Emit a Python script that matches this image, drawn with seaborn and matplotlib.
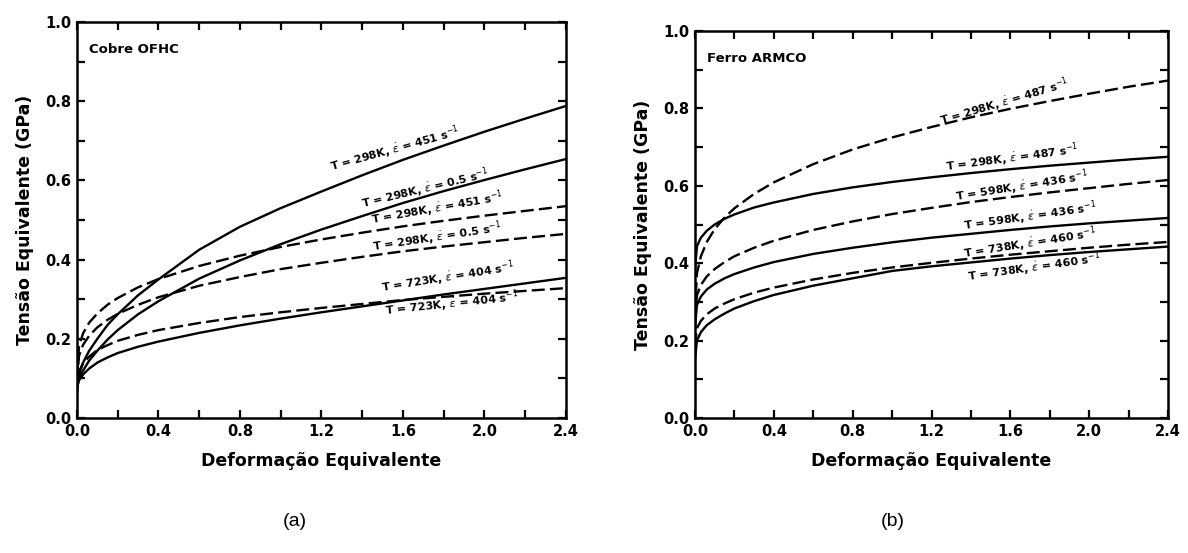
import matplotlib
matplotlib.use("Agg")
import matplotlib.pyplot as plt
from matplotlib.ticker import MultipleLocator
import pandas as pd
import seaborn as sns

sns.set_theme(style="white")
plt.rcParams["font.family"] = ["DejaVu Sans"]
plt.rcParams["mathtext.fontset"] = "dejavusans"
plt.rcParams["text.color"] = "black"
plt.rcParams["axes.labelcolor"] = "black"
plt.rcParams["xtick.color"] = "black"
plt.rcParams["ytick.color"] = "black"

# Equivalent strain sampling points (shared by every curve)
strain = [0.0, 0.01, 0.03, 0.06, 0.1, 0.15, 0.2, 0.3, 0.4, 0.6, 0.8,
          1.0, 1.2, 1.4, 1.6, 1.8, 2.0, 2.2, 2.4]

# (a) OFHC copper - equivalent stress (GPa)
cu_298_451_solid = [0.09, 0.11, 0.14, 0.17, 0.20, 0.235, 0.262, 0.31, 0.35, 0.425, 0.483,
                    0.53, 0.572, 0.613, 0.652, 0.688, 0.723, 0.756, 0.788]
cu_298_low_solid = [0.085, 0.10, 0.12, 0.145, 0.17, 0.198, 0.222, 0.262, 0.295, 0.352, 0.398,
                    0.439, 0.476, 0.51, 0.543, 0.573, 0.601, 0.628, 0.654]
cu_298_451_dash = [0.103, 0.182, 0.214, 0.241, 0.264, 0.286, 0.303, 0.33, 0.351, 0.384, 0.41,
                   0.432, 0.451, 0.468, 0.484, 0.498, 0.511, 0.523, 0.535]
cu_298_low_dash = [0.0885, 0.157, 0.185, 0.208, 0.229, 0.248, 0.263, 0.286, 0.305, 0.334, 0.356,
                   0.376, 0.392, 0.407, 0.421, 0.433, 0.444, 0.455, 0.465]
cu_723_solid = [0.075, 0.095, 0.11, 0.125, 0.14, 0.153, 0.164, 0.18, 0.193, 0.215, 0.234,
                0.251, 0.267, 0.282, 0.297, 0.312, 0.326, 0.34, 0.354]
cu_723_dash = [0.062, 0.118, 0.138, 0.155, 0.172, 0.184, 0.195, 0.21, 0.222, 0.24, 0.255,
               0.267, 0.278, 0.288, 0.298, 0.306, 0.314, 0.321, 0.328]

# (b) ARMCO iron - equivalent stress (GPa)
fe_298_dash = [0.27, 0.374, 0.418, 0.455, 0.488, 0.518, 0.542, 0.579, 0.609, 0.656, 0.694,
               0.725, 0.752, 0.777, 0.799, 0.819, 0.838, 0.856, 0.872]
fe_298_solid = [0.384, 0.444, 0.466, 0.484, 0.50, 0.515, 0.526, 0.544, 0.557, 0.579, 0.596,
                0.61, 0.622, 0.633, 0.643, 0.652, 0.66, 0.668, 0.675]
fe_598_dash = [0.255, 0.317, 0.344, 0.366, 0.385, 0.403, 0.418, 0.44, 0.458, 0.486, 0.508,
               0.527, 0.543, 0.558, 0.571, 0.583, 0.594, 0.605, 0.615]
fe_598_solid = [0.234, 0.292, 0.314, 0.332, 0.347, 0.361, 0.372, 0.389, 0.403, 0.424, 0.44,
                0.454, 0.466, 0.476, 0.486, 0.495, 0.503, 0.51, 0.517]
fe_738_dash = [0.185, 0.232, 0.251, 0.268, 0.283, 0.296, 0.307, 0.324, 0.337, 0.358, 0.375,
               0.389, 0.401, 0.412, 0.422, 0.431, 0.44, 0.448, 0.455]
fe_738_solid = [0.15, 0.20, 0.222, 0.24, 0.255, 0.27, 0.283, 0.302, 0.318, 0.342, 0.361,
                0.38, 0.392, 0.402, 0.412, 0.421, 0.429, 0.436, 0.443]

EPS = r"$\dot{\varepsilon}$"
cu_curves = [
    ("cu1", "solid", cu_298_451_solid, "T = 298K, " + EPS + " = 451 s$^{-1}$", 1.56, 0.678, 15.5),
    ("cu2", "solid", cu_298_low_solid, "T = 298K, " + EPS + " = 0.5 s$^{-1}$", 1.71, 0.580, 13.5),
    ("cu3", "dash", cu_298_451_dash, "T = 298K, " + EPS + " = 451 s$^{-1}$", 1.77, 0.530, 10),
    ("cu4", "dash", cu_298_low_dash, "T = 298K, " + EPS + " = 0.5 s$^{-1}$", 1.77, 0.457, 8.5),
    ("cu5", "solid", cu_723_solid, "T = 723K, " + EPS + " = 404 s$^{-1}$", 1.82, 0.355, 9),
    ("cu6", "dash", cu_723_dash, "T = 723K, " + EPS + " = 404 s$^{-1}$", 1.84, 0.288, 6),
]
fe_curves = [
    ("fe1", "dash", fe_298_dash, "T = 298K, " + EPS + " = 487 s$^{-1}$", 1.57, 0.817, 16.5),
    ("fe2", "solid", fe_298_solid, "T = 298K, " + EPS + " = 487 s$^{-1}$", 1.61, 0.672, 7.5),
    ("fe3", "dash", fe_598_dash, "T = 598K, " + EPS + " = 436 s$^{-1}$", 1.66, 0.600, 9),
    ("fe4", "solid", fe_598_solid, "T = 598K, " + EPS + " = 436 s$^{-1}$", 1.70, 0.520, 8),
    ("fe5", "dash", fe_738_dash, "T = 738K, " + EPS + " = 460 s$^{-1}$", 1.70, 0.452, 9),
    ("fe6", "solid", fe_738_solid, "T = 738K, " + EPS + " = 460 s$^{-1}$", 1.72, 0.390, 8),
]

x_ticks = [0.0, 0.4, 0.8, 1.2, 1.6, 2.0, 2.4]
y_ticks = [0.0, 0.2, 0.4, 0.6, 0.8, 1.0]


def long_frame(curves):
    rows = []
    for name, kind, values, *_ in curves:
        for e, s in zip(strain, values):
            rows.append({"strain": e, "stress": s, "curve": name, "kind": kind})
    return pd.DataFrame(rows)


fig = plt.figure(figsize=(11.88, 5.53), dpi=100)
ax_a = fig.add_axes([0.0648, 0.2441, 0.4116, 0.7161])
ax_b = fig.add_axes([0.5850, 0.2441, 0.3982, 0.6998])

tick_font = dict(weight="bold", size=10.5)

for ax, curves, title in [
    (ax_a, cu_curves, "Cobre OFHC"),
    (ax_b, fe_curves, "Ferro ARMCO"),
]:
    df = long_frame(curves)
    sns.lineplot(data=df, x="strain", y="stress", units="curve", style="kind",
                 estimator=None, color="black", linewidth=1.7, legend=False,
                 dashes={"solid": "", "dash": (5.5, 2.2)}, ax=ax, sort=False)

    for name, kind, values, label, lx, ly, rot in curves:
        ax.text(lx, ly, label, rotation=rot, ha="center", va="center",
                fontsize=8, fontweight="bold", rotation_mode="anchor")

    ax.set_xlim(0.0, 2.4)
    ax.set_ylim(0.0, 1.0)
    ax.set_xticks(x_ticks)
    ax.set_yticks(y_ticks)
    ax.xaxis.set_minor_locator(MultipleLocator(0.2))
    ax.yaxis.set_minor_locator(MultipleLocator(0.1))
    ax.set_xticklabels([f"{v:.1f}" for v in x_ticks], fontdict=tick_font)
    ax.set_yticklabels([f"{v:.1f}" for v in y_ticks], fontdict=tick_font)
    ax.tick_params(which="both", direction="in", top=True, right=True,
                   bottom=True, left=True, color="black", width=1.6, pad=4)
    ax.tick_params(which="major", length=6)
    ax.tick_params(which="minor", length=6)
    for sp in ax.spines.values():
        sp.set_color("black")
        sp.set_linewidth(1.8)
    ax.set_xlabel("Deformação Equivalente", fontsize=12.5, fontweight="bold", labelpad=10)
    ax.set_ylabel("Tensão Equivalente (GPa)", fontsize=12.5, fontweight="bold", labelpad=8)
    ax.text(0.06, 0.93, title, fontsize=9.5, fontweight="bold", ha="left", va="center")

# Panel captions below each plot
fig.text(295 / 1188, 1 - 522 / 553, "(a)", ha="center", va="center", fontsize=14,
         family=["Liberation Sans", "DejaVu Sans"])
fig.text(893 / 1188, 1 - 522 / 553, "(b)", ha="center", va="center", fontsize=14,
         family=["Liberation Sans", "DejaVu Sans"])

fig.savefig("out.png", dpi=100, facecolor="white")
